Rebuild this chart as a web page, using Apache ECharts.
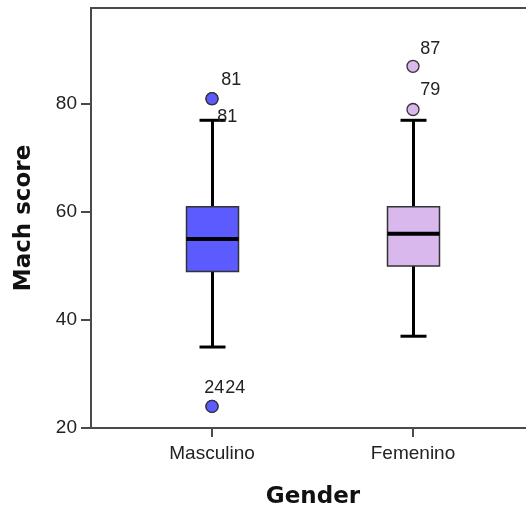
<!DOCTYPE html>
<html>
<head>
<meta charset="utf-8">
<script src="https://cdn.jsdelivr.net/npm/echarts@6/dist/echarts.min.js"></script>
<style>html,body{margin:0;padding:0;background:#fff}#c{width:526px;height:508px}</style>
</head>
<body>
<div id="c"></div>
<script>
var categories = ['Masculino', 'Femenino'];
var whiskerLow = [35, 37];
var q1 = [49, 50];
var median = [55, 56];
var q3 = [61, 61];
var whiskerHigh = [77, 77];
var outlierCategory = [0, 0, 0, 0, 1, 1];
var outlierValue = [81, 81, 24, 24, 87, 79];
var outlierLabel = ['81', '81', '24', '24', '87', '79'];
var yTicks = [20, 40, 60, 80];

var boxColors = ['#5b5bff', '#d9b8ee'];
var labelOffsets = [[10, -18], [6, 19], [-7, -18], [14, -18], [8, -17], [8, -19]];

var boxData = categories.map(function (c, i) {
  return [i, whiskerLow[i], q1[i], median[i], q3[i], whiskerHigh[i]];
});

var SYM = 12;
var outData = outlierValue.map(function (v, i) {
  var off = labelOffsets[i];
  return {
    value: [outlierCategory[i], v],
    itemStyle: { color: boxColors[outlierCategory[i]] },
    label: {
      show: true,
      formatter: outlierLabel[i],
      position: [off[0] + SYM / 2, off[1] + SYM / 2],
      align: 'left',
      verticalAlign: 'middle'
    }
  };
});

var chart = echarts.init(document.getElementById('c'));
var ink = '#4a4a4a';
chart.setOption({
  animation: false,
  backgroundColor: '#fff',
  grid: { left: 91, top: 8, bottom: 80, width: 444, outerBoundsMode: 'none', containLabel: false,
          show: true, borderColor: ink, borderWidth: 2 },
  xAxis: {
    type: 'value',
    min: -121 / 201,
    max: 1 + 122 / 201,
    name: 'Gender',
    nameLocation: 'middle',
    nameGap: 58,
    nameTextStyle: { fontFamily: 'DejaVu Sans', fontWeight: 'bold', fontSize: 23, color: '#111' },
    splitLine: { show: false },
    axisLine: { show: true, onZero: false, lineStyle: { color: ink, width: 2 } },
    axisTick: { show: true, customValues: [0, 1], length: 9, inside: false, lineStyle: { color: ink, width: 2 } },
    axisLabel: {
      customValues: [0, 1],
      formatter: function (v) { return categories[Math.round(v)]; },
      fontFamily: 'Liberation Sans, Arial',
      fontSize: 19,
      color: '#222',
      margin: 16
    }
  },
  yAxis: {
    type: 'value',
    min: 20,
    max: 97.8,
    interval: 20,
    name: 'Mach score',
    nameLocation: 'middle',
    nameGap: 55,
    nameTextStyle: { fontFamily: 'DejaVu Sans', fontWeight: 'bold', fontSize: 23, color: '#111' },
    splitLine: { show: false },
    axisLine: { show: true, onZero: false, lineStyle: { color: ink, width: 2 } },
    axisTick: { show: true, customValues: yTicks, length: 10, lineStyle: { color: ink, width: 2 } },
    axisLabel: {
      customValues: yTicks,
      fontFamily: 'Liberation Sans, Arial',
      fontSize: 19,
      color: '#222',
      margin: 14
    }
  },
  series: [
    {
      type: 'custom',
      data: boxData,
      z: 3,
      renderItem: function (params, api) {
        var x = api.value(0);
        var lo = api.coord([x, api.value(1)]);
        var b1 = api.coord([x, api.value(2)]);
        var md = api.coord([x, api.value(3)]);
        var b3 = api.coord([x, api.value(4)]);
        var hi = api.coord([x, api.value(5)]);
        var cx = Math.round(lo[0]) + 0.5;
        var hw = 26, cw = 13;
        var color = boxColors[params.dataIndex];
        var ls = { stroke: '#000', lineWidth: 3 };
        return {
          type: 'group',
          children: [
            { type: 'line', shape: { x1: cx, y1: lo[1], x2: cx, y2: hi[1] }, style: ls },
            { type: 'line', shape: { x1: cx - cw, y1: lo[1], x2: cx + cw, y2: lo[1] }, style: ls },
            { type: 'line', shape: { x1: cx - cw, y1: hi[1], x2: cx + cw, y2: hi[1] }, style: ls },
            { type: 'rect', shape: { x: cx - hw, y: b3[1], width: hw * 2, height: b1[1] - b3[1] },
              style: { fill: color, stroke: '#333', lineWidth: 1.5 } },
            { type: 'line', shape: { x1: cx - hw, y1: md[1], x2: cx + hw, y2: md[1] },
              style: { stroke: '#000', lineWidth: 4 } }
          ]
        };
      }
    },
    {
      type: 'scatter',
      symbol: 'circle',
      symbolSize: SYM,
      z: 4,
      itemStyle: { borderColor: '#333', borderWidth: 1.3, opacity: 1 },
      label: { fontFamily: 'Liberation Sans, Arial', fontSize: 18, color: '#222' },
      data: outData
    }
  ]
});
</script>
</body>
</html>
